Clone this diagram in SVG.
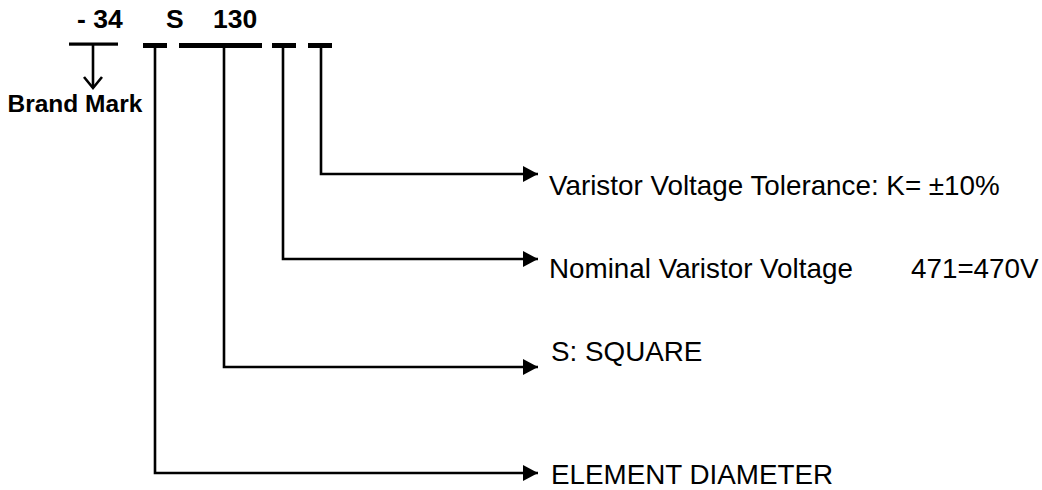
<svg xmlns="http://www.w3.org/2000/svg" width="1042" height="490" viewBox="0 0 1042 490">
<style>
.code{font-family:"Liberation Sans",Arial,sans-serif;font-weight:bold;font-size:26.5px;fill:#000}
.brand{font-family:"Liberation Sans",Arial,sans-serif;font-weight:bold;font-size:24.5px;fill:#000}
.lbl{font-family:"Liberation Sans",Arial,sans-serif;font-size:27.8px;fill:#000}
.bar{fill:#000}
.conn{fill:none;stroke:#000;stroke-width:2.6;stroke-linejoin:miter}
</style>
<defs>
<marker id="tri" markerWidth="16" markerHeight="16" viewBox="0 0 16 16" refX="15" refY="8" orient="auto" markerUnits="userSpaceOnUse">
<path d="M0,0 L15,8 L0,16 Z" fill="#000"/>
</marker>
</defs>
<rect width="1042" height="490" fill="#fff"/>
<g id="code">
<text class="code" x="77" y="27.5">- 34</text>
<text class="code" x="166" y="27.5">S</text>
<text class="code" x="213" y="27.5">130</text>
</g>
<g id="bars">
<rect class="bar" x="69" y="42.5" width="49" height="3.2"/>
<rect class="bar" x="143" y="43" width="24" height="5"/>
<rect class="bar" x="179" y="43" width="83" height="5"/>
<rect class="bar" x="272" y="43" width="24" height="5"/>
<rect class="bar" x="308" y="43" width="24" height="5"/>
</g>
<g id="brand-mark">
<text class="brand" x="7.5" y="112">Brand Mark</text>
</g>
<g id="connectors">
<path class="conn" d="M93,45 V88"/>
<path class="conn" d="M84,77 L93,88 L102,77"/>
<path class="conn" d="M321,46 V174 H538" marker-end="url(#tri)"/>
<path class="conn" d="M283,46 V259 H538" marker-end="url(#tri)"/>
<path class="conn" d="M224,46 V367 H538" marker-end="url(#tri)"/>
<path class="conn" d="M155,46 V473 H538" marker-end="url(#tri)"/>
</g>
<g id="tolerance">
<text class="lbl" x="549" y="195">Varistor Voltage Tolerance: K= ±10%</text>
</g>
<g id="nominal">
<text class="lbl" x="549" y="278">Nominal Varistor Voltage</text>
<text class="lbl" x="911" y="278">471=470V</text>
</g>
<g id="square">
<text class="lbl" x="551" y="361">S: SQUARE</text>
</g>
<g id="diameter">
<text class="lbl" x="551" y="484">ELEMENT DIAMETER</text>
</g>
</svg>
